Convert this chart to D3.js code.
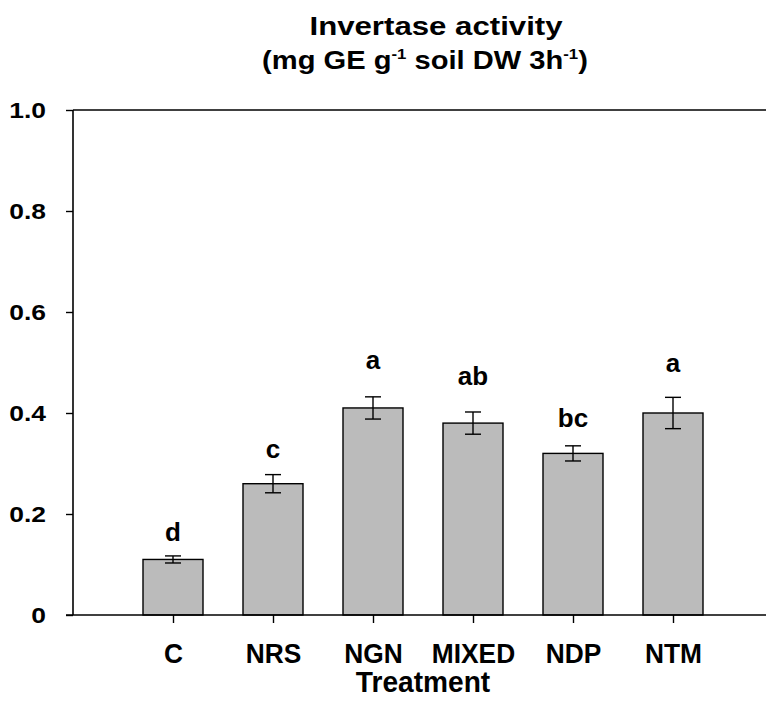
<!DOCTYPE html>
<html><head><meta charset="utf-8">
<script src="https://cdn.jsdelivr.net/npm/d3@7"></script>
<style>body{margin:0;background:#fff}svg{display:block}text{font-family:"Liberation Sans",Arial,sans-serif;font-weight:bold;fill:#000}</style>
</head><body>
<svg id="c" width="766" height="714"></svg>
<script>
const categories = ["C","NRS","NGN","MIXED","NDP","NTM"];
const values = [0.11,0.26,0.41,0.38,0.32,0.40];
const errors = [0.007,0.018,0.022,0.022,0.015,0.031];
const letters = ["d","c","a","ab","bc","a"];
const letterY = [0.147,0.311,0.487,0.455,0.372,0.481];
const yTicks = [0,0.2,0.4,0.6,0.8,1.0];
const yTickLabels = ["0","0.2","0.4","0.6","0.8","1.0"];

const svg = d3.select("#c");
const L=73, R=773, T=110, B=615;
const x = d3.scaleLinear().domain([0,7]).range([L,R]);
const y = d3.scaleLinear().domain([0,1]).range([B,T]);
const bw = 60;

svg.append("line").attr("x1",L).attr("x2",R).attr("y1",T).attr("y2",T).attr("stroke","#000").attr("stroke-width",1.6);

svg.selectAll("rect.bar").data(values).join("rect")
  .attr("x",(d,i)=>x(i+1)-bw/2).attr("width",bw)
  .attr("y",d=>y(d)).attr("height",d=>B-y(d))
  .attr("fill","#bbbbbb").attr("stroke","#000").attr("stroke-width",1.4);

const eg = svg.append("g").attr("stroke","#000").attr("stroke-width",1.4);
values.forEach((v,i)=>{
  const cx=x(i+1), e=errors[i];
  eg.append("line").attr("x1",cx).attr("x2",cx).attr("y1",y(v+e)).attr("y2",y(v-e));
  eg.append("line").attr("x1",cx-8).attr("x2",cx+8).attr("y1",y(v+e)).attr("y2",y(v+e));
  eg.append("line").attr("x1",cx-8).attr("x2",cx+8).attr("y1",y(v-e)).attr("y2",y(v-e));
});

svg.selectAll("text.let").data(letters).join("text")
  .attr("x",(d,i)=>x(i+1)).attr("y",(d,i)=>y(letterY[i]))
  .attr("text-anchor","middle").style("font-size","26px").text(d=>d);

const ya = svg.append("g").attr("transform",`translate(${L},0)`)
  .call(d3.axisLeft(y).tickValues(yTicks).tickFormat((d,i)=>yTickLabels[i]).tickSize(7).tickPadding(20));
ya.select(".domain").attr("stroke-width",1.6).attr("d",`M0,${T}V${B}`);
ya.selectAll(".tick line").attr("stroke-width",1.4);
ya.selectAll(".tick text").style("font-size","22px").attr("font-family",null)
  .attr("x",0).attr("dy","0.36em").attr("transform","translate(-27,0) scale(1.2,1)");

const xa = svg.append("g").attr("transform",`translate(0,${B})`)
  .call(d3.axisBottom(x).tickValues([1,2,3,4,5,6]).tickFormat(d=>categories[d-1]).tickSize(8).tickPadding(18));
xa.select(".domain").attr("stroke-width",1.6).attr("d",`M${L-7},0H${R}`);
xa.selectAll(".tick line").attr("stroke-width",1.4);
xa.selectAll(".tick text").style("font-size","28px").attr("font-family",null)
  .attr("y",0).attr("dy",null).attr("transform","translate(0,48) scale(0.94,1)");

svg.append("text").attr("text-anchor","middle").style("font-size","29px")
  .attr("transform","translate(423,692) scale(0.97,1)").text("Treatment");

svg.append("text").attr("text-anchor","middle").style("font-size","26px")
  .attr("transform","translate(436,35) scale(1.2,1)").text("Invertase activity");
const t2 = svg.append("text").attr("text-anchor","middle").style("font-size","26px")
  .attr("transform","translate(425,69) scale(1.12,1)");
t2.append("tspan").text("(mg GE g");
t2.append("tspan").attr("dy",-10).style("font-size","15px").text("-1");
t2.append("tspan").attr("dy",10).text(" soil DW 3h");
t2.append("tspan").attr("dy",-10).style("font-size","15px").text("-1");
t2.append("tspan").attr("dy",10).text(")");
</script>
</body></html>
